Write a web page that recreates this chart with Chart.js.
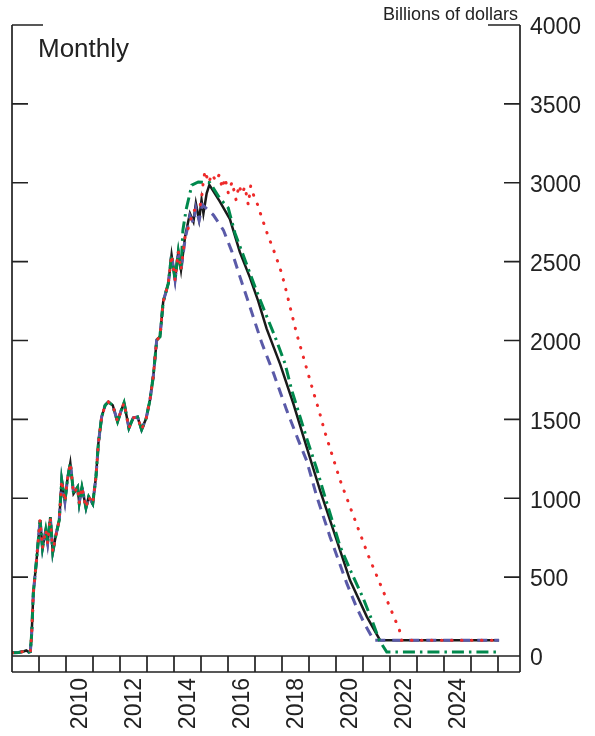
<!DOCTYPE html>
<html>
<head>
<meta charset="utf-8">
<script src="https://cdn.jsdelivr.net/npm/chart.js@4.4.1/dist/chart.umd.min.js"></script>
<style>
  body { margin: 0; background: #fff; }
  #wrap { position: relative; width: 595px; height: 736px; font-family: "Liberation Sans", Arial, sans-serif; color: #222; }
  #units { position: absolute; right: 77px; top: 5px; font-size: 18px; line-height: 18px; white-space: nowrap; }
  #freq { position: absolute; left: 38px; top: 35px; font-size: 26px; line-height: 26px; }
</style>
</head>
<body>
<div id="wrap">
  <canvas id="reserveChart" width="595" height="736"></canvas>
  <div id="units">Billions of dollars</div>
  <div id="freq">Monthly</div>
</div>
<script>
// shared history, all four paths overlap here
const histYears = [2008.00, 2008.25, 2008.45, 2008.53, 2008.62, 2008.68, 2008.73, 2008.79, 2008.91, 2009.04,
  2009.13, 2009.25, 2009.32, 2009.42, 2009.51, 2009.62, 2009.75, 2009.84, 2009.96, 2010.05,
  2010.16, 2010.28, 2010.43, 2010.49, 2010.59, 2010.74, 2010.84, 2010.99, 2011.11, 2011.20,
  2011.32, 2011.45, 2011.57, 2011.73, 2011.91, 2012.05, 2012.15, 2012.33, 2012.49, 2012.65,
  2012.80, 2012.97, 2013.11, 2013.23, 2013.36, 2013.48, 2013.60, 2013.79, 2013.91, 2014.04,
  2014.16, 2014.26];
const histValues = [20, 22, 30, 35, 25, 28, 145, 400, 610, 862,
  685, 800, 715, 880, 660, 760, 862, 1115, 978, 1115,
  1223, 1030, 1070, 970, 1070, 940, 1010, 965, 1135, 1350,
  1515, 1590, 1610, 1590, 1485, 1560, 1605, 1445, 1510, 1515,
  1435, 1507, 1623, 1770, 2003, 2024, 2246, 2362, 2542, 2384,
  2563, 2447];

// baseline (solid black)
const baseYears = [2014.41, 2014.59, 2014.72, 2014.81, 2014.93, 2015.02, 2015.09, 2015.21, 2015.31, 2015.70,
  2016.07, 2016.44, 2016.81, 2017.12, 2017.43, 2017.93, 2018.42, 2018.91, 2019.41, 2019.90,
  2020.52, 2021.14, 2021.63, 2026.04];
const baseValues = [2658, 2806, 2753, 2870, 2764, 2891, 2806, 2933, 2986, 2880,
  2770, 2560, 2400, 2250, 2075, 1850, 1600, 1325, 1050, 800,
  480, 250, 100, 100];

// lower path (blue dashed)
const lowYears = [2014.41, 2014.59, 2014.72, 2014.81, 2014.93, 2015.05, 2015.25, 2015.46, 2015.83, 2016.14,
  2016.44, 2016.81, 2017.25, 2017.68, 2018.17, 2018.60, 2018.91, 2019.29, 2019.78, 2020.40,
  2020.77, 2021.07, 2021.40, 2026.04];
const lowValues = [2640, 2790, 2745, 2840, 2760, 2860, 2830, 2795, 2700, 2565,
  2405, 2215, 1985, 1795, 1560, 1370, 1240, 1010, 755, 460,
  305, 200, 100, 100];

// path to near zero (green dash-dot)
const zeroYears = [2014.33, 2014.45, 2014.66, 2014.90, 2015.33, 2015.70, 2016.01, 2016.26, 2016.63, 2017.00,
  2017.37, 2017.74, 2018.11, 2018.36, 2018.67, 2018.97, 2019.28, 2019.59, 2020.15, 2020.58,
  2021.01, 2021.38, 2021.60, 2021.88, 2026.04];
const zeroValues = [2700, 2830, 2985, 3005, 3000, 2900, 2840, 2680, 2510, 2340,
  2180, 2025, 1855, 1685, 1515, 1350, 1190, 1010, 695, 525,
  365, 205, 100, 25, 25];

// higher path (red dotted)
const highYears = [2014.41, 2014.53, 2014.72, 2014.94, 2015.02, 2015.09, 2015.15, 2015.28, 2015.41, 2015.55,
  2015.67, 2015.79, 2015.89, 2016.01, 2016.15, 2016.30, 2016.41, 2016.51, 2016.63, 2016.75,
  2016.84, 2016.96, 2017.10, 2017.22, 2017.47, 2017.74, 2017.99, 2018.17, 2018.36, 2018.54,
  2018.75, 2018.95, 2019.16, 2019.38, 2019.57, 2020.15, 2021.20, 2022.35, 2022.43, 2026.04];
const highValues = [2658, 2713, 2825, 2830, 2900, 3015, 3075, 3000, 3055, 3010,
  3050, 2965, 3030, 2935, 3005, 2890, 2985, 2930, 2975, 2860,
  2980, 2915, 2860, 2795, 2670, 2550, 2425, 2305, 2170, 2045,
  1920, 1800, 1675, 1550, 1430, 1115, 635, 165, 100, 100];

const yearLabels = [2010, 2012, 2014, 2016, 2018, 2020, 2022, 2024];
const stripYears = [2009, 2010, 2011, 2012, 2013, 2014, 2015, 2016, 2017, 2018, 2019, 2020, 2021, 2022, 2023, 2024, 2025, 2026];
const yTicks = [500, 1000, 1500, 2000, 2500, 3000, 3500];

const xMin = 2008, xMax = 2026.815;

function pts(xs, ys) {
    return xs.map((x, i) => ({ x: x, y: ys[i] }));
}
function path(xs, ys) {
    return pts(histYears, histValues).concat(pts(xs, ys));
}

const axisFont = { family: '"Liberation Sans", Arial, sans-serif', size: 23 };

// frame, inner ticks and the year strip under the plot
const framePlugin = {
    id: 'frame',
    afterDraw(chart) {
        const ctx = chart.ctx;
        const { left, right, top, bottom } = chart.chartArea;
        const xs = chart.scales.x, ys = chart.scales.y;
        const strip = 16;
        ctx.save();
        ctx.strokeStyle = '#222';
        ctx.lineWidth = 1.7;
        ctx.beginPath();
        ctx.moveTo(left, top); ctx.lineTo(left, bottom + strip);
        ctx.moveTo(right, top); ctx.lineTo(right, bottom + strip);
        ctx.moveTo(left, top); ctx.lineTo(left + 31, top);
        ctx.moveTo(right - 32, top); ctx.lineTo(right, top);
        ctx.moveTo(left, bottom); ctx.lineTo(right, bottom);
        ctx.moveTo(left, bottom + strip); ctx.lineTo(right, bottom + strip);
        yTicks.forEach(v => {
            const py = ys.getPixelForValue(v);
            ctx.moveTo(left, py); ctx.lineTo(left + 16, py);
            ctx.moveTo(right - 16, py); ctx.lineTo(right, py);
        });
        stripYears.forEach(yr => {
            const px = xs.getPixelForValue(yr);
            ctx.moveTo(px, bottom); ctx.lineTo(px, bottom + strip);
        });
        ctx.stroke();
        ctx.restore();
    }
};

// Chart.js paints the first dataset on top, so the list runs top to bottom
const ctx = document.getElementById('reserveChart').getContext('2d');
new Chart(ctx, {
    type: 'line',
    data: {
        datasets: [
            { data: path(highYears, highValues), borderColor: '#ee2a2a', borderWidth: 3, borderDash: [0.5, 9.5], borderCapStyle: 'round' },
            { data: path(zeroYears, zeroValues), borderColor: '#00894d', borderWidth: 3, borderDash: [12, 5, 2.5, 5] },
            { data: path(lowYears, lowValues), borderColor: '#5a5aa8', borderWidth: 3, borderDash: [10, 7] },
            { data: path(baseYears, baseValues), borderColor: '#1a1a1a', borderWidth: 2.5 }
        ]
    },
    options: {
        responsive: false,
        animation: false,
        layout: { padding: { left: 12, top: 25, right: 0, bottom: 0 } },
        elements: { point: { radius: 0 }, line: { tension: 0 } },
        plugins: { legend: { display: false }, tooltip: { enabled: false } },
        scales: {
            x: {
                type: 'linear',
                min: xMin,
                max: xMax,
                afterBuildTicks: s => { s.ticks = yearLabels.map(v => ({ value: v + 0.5 })); },
                afterFit: s => { s.height = 80; },
                grid: { display: false, drawTicks: false },
                border: { display: false },
                ticks: {
                    autoSkip: false,
                    minRotation: 90,
                    maxRotation: 90,
                    padding: 22,
                    labelOffset: 1,
                    color: '#222',
                    font: axisFont,
                    callback: v => String(Math.floor(v))
                }
            },
            y: {
                position: 'right',
                min: 0,
                max: 4000,
                afterFit: s => { s.width = 75; },
                grid: { display: false, drawTicks: false },
                border: { display: false },
                ticks: { stepSize: 500, padding: 10, labelOffset: 3, color: '#222', font: axisFont, callback: v => String(v) }
            }
        }
    },
    plugins: [framePlugin]
});
</script>
</body>
</html>
